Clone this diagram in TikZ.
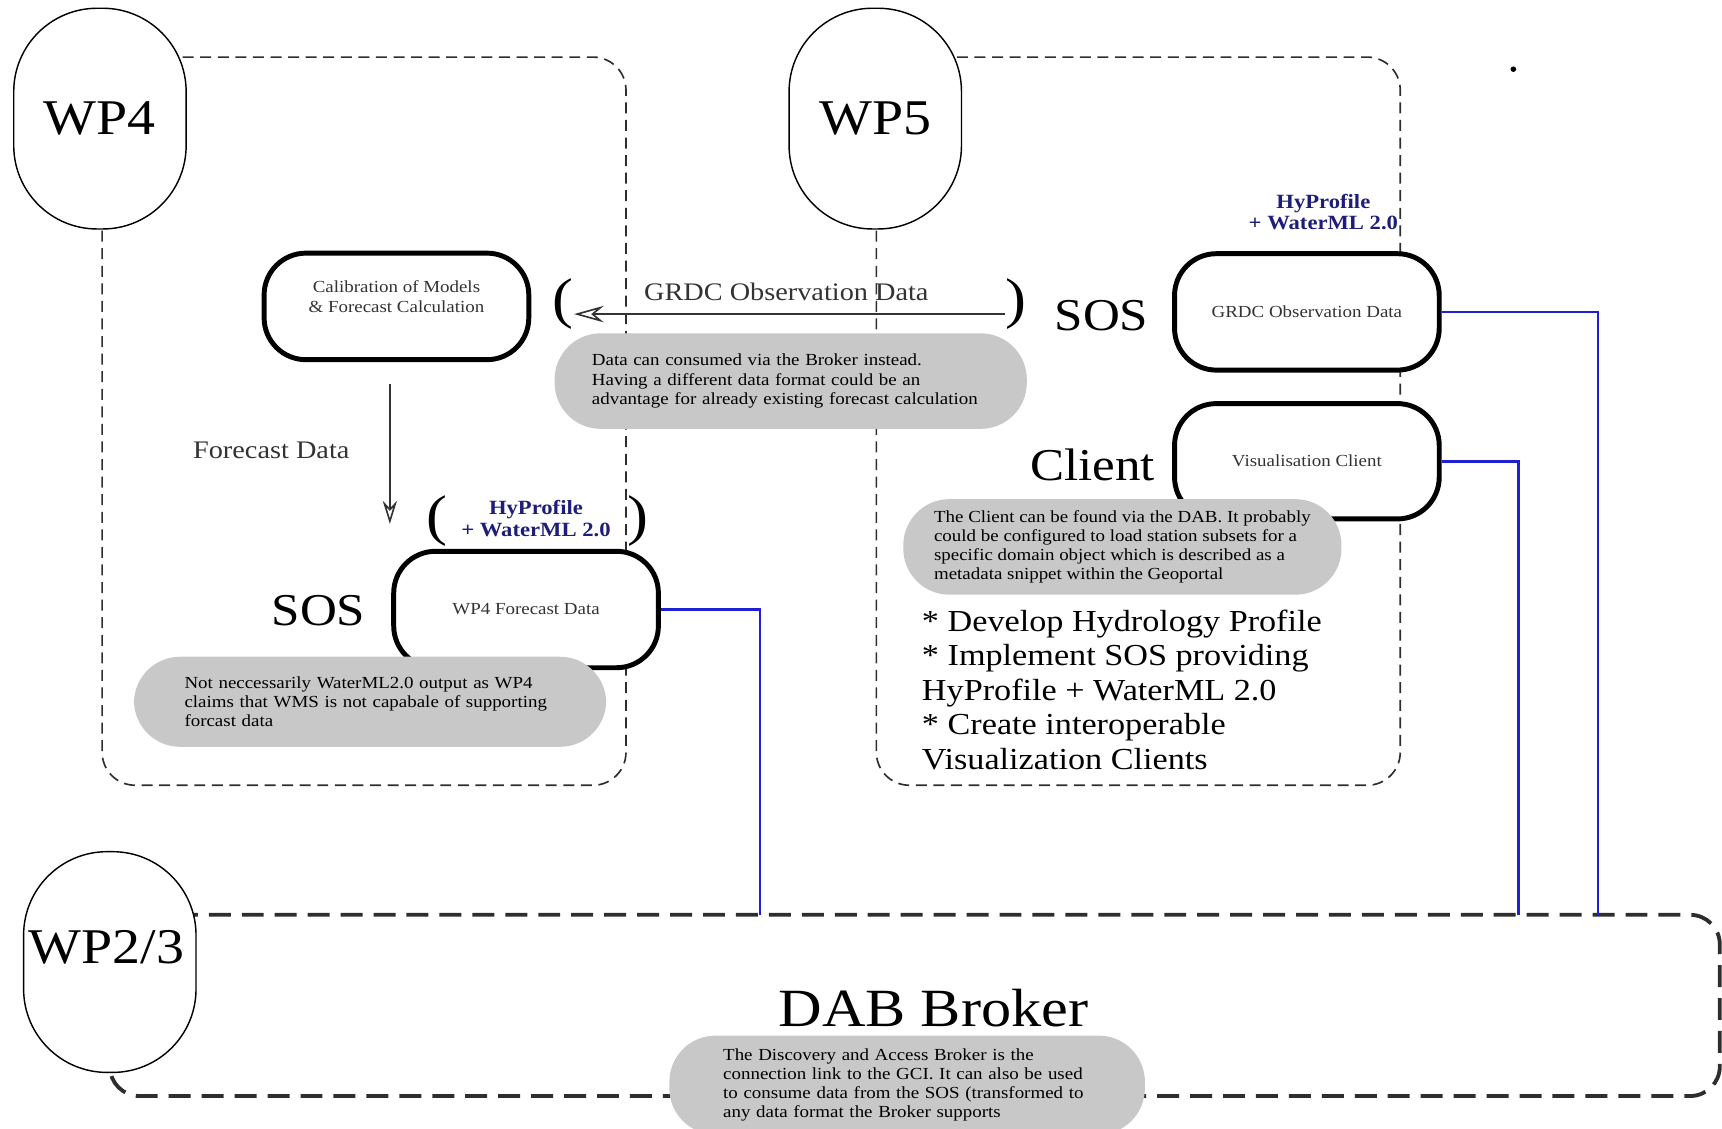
\documentclass[tikz,border=0pt]{standalone}
\usepackage{fontspec}
\setmainfont{Liberation Serif}[FakeStretch=1.12]
\usepackage{xcolor}
\usepackage{tikz}
\usetikzlibrary{arrows.meta}
\definecolor{ink}{HTML}{000000}
\definecolor{soft}{HTML}{333333}
\definecolor{framec}{HTML}{2E2E2E}
\definecolor{shade}{HTML}{C8C8C8}
\definecolor{navy}{HTML}{1E1E7A}
\definecolor{wireblue}{HTML}{1F1FD8}
\tikzset{
  wp/.style={draw=ink, line width=1.3pt, fill=white, rounded corners=76pt,
    minimum width=157pt, minimum height=201pt, inner sep=0pt,
    font=\fontsize{45.5}{50}\selectfont},
  wpframe/.style={draw=framec, line width=1.5pt, dash pattern=on 10pt off 6pt, rounded corners=30pt},
  busframe/.style={draw=framec, line width=3.5pt, dash pattern=on 20pt off 10pt, rounded corners=27pt},
  box/.style={draw=ink, line width=4.5pt, fill=white, rounded corners=38pt,
    minimum width=241pt, minimum height=106pt, align=center, text=soft,
    font=\fontsize{15.4}{18}\selectfont},
  memo/.style={fill=shade, rounded corners=42pt, inner sep=0pt, align=left,
    font=\fontsize{15.4}{17.5}\selectfont},
  big/.style={font=\fontsize{41.5}{46}\selectfont},
  lab/.style={text=soft, font=\fontsize{23}{26}\selectfont},
  fmt/.style={text=navy, align=center, font=\bfseries\fontsize{18.4}{19.5}\selectfont},
  paren/.style={inner sep=0pt, font=\fontsize{51}{56}\selectfont},
  flow/.style={draw=soft, line width=1.5pt},
  wire/.style={draw=wireblue, line width=2.5pt},
  dot/.style={circle, fill=ink, inner sep=1.8pt},
}

\begin{document}
\begin{tikzpicture}[x=1pt,y=-1pt]
  \useasboundingbox (0,0) rectangle (1568,1028);
  % work package frames
  \draw[wpframe] (93,52) rectangle (570,715);
  \draw[wpframe] (798,52) rectangle (1275,715);
  \draw[busframe] (100,833) rectangle (1566,998);
  \node[wp] (wp4) at (91,108) {WP4};
  \node[wp] (wp5) at (797,108) {WP5};
  \node[wp] (wp23) at (100,876) {};
  \node[font=\fontsize{45.5}{50}\selectfont] (wp23lab) at (97,863) {WP2/3};
  \node[dot] (speck) at (1378,63) {};

  \node[box, minimum height=97pt] (calib) at (361,279) {Calibration of Models\\\& Forecast Calculation\\~};
  \node[box] (wp4data) at (479,555) {WP4 Forecast Data};
  \node[box] (grdcdata) at (1190,284) {GRDC Observation Data};
  \node[box, minimum height=105pt] (visclient) at (1190,420) {Visualisation Client};

  \node[big] (sosfc) at (290,556) {SOS};
  \node[big] (sosobs) at (1003,287) {SOS};
  \node[big] (client) at (995,423) {Client};
  \node[font=\fontsize{49}{54}\selectfont] (broker) at (850,918) {DAB Broker};

  \node[lab] (fclab) at (247,410) {Forecast Data};
  \node[lab] (obslab) at (716,266) {GRDC Observation Data};
  \node[fmt] (fmtfc) at (488,472) {HyProfile\\+ WaterML 2.0};
  \node[fmt] (fmtobs) at (1205,193) {HyProfile\\+ WaterML 2.0};
  \node[paren] (fcopen) at (398,474) {(};
  \node[paren] (fcclose) at (581,474) {)};
  \node[paren] (obsopen) at (513,277) {(};
  \node[paren] (obsclose) at (925,277) {)};

  \coordinate (fcfrom) at (355,350);
  \coordinate (fcto) at (355,477);
  \draw[flow, -{Stealth[open, length=21pt, width=13pt, inset=7pt]}] (fcfrom) -- (fcto);
  \draw[flow, -{Stealth[open, length=27pt, width=15pt, inset=9pt]}]
    ([yshift=-9pt]obsclose.west) -- ([yshift=-9pt]obsopen.east);

  % links down to the broker
  \coordinate (tap1) at (692,833);
  \coordinate (tap2) at (1383,833);
  \coordinate (tap3) at (1455,833);
  \draw[wire] (wp4data.east) -| (tap1);
  \draw[wire] (visclient.east) -| (tap2);
  \draw[wire] (grdcdata.east) -| (tap3);

  \node[memo, text width=362pt, minimum width=430pt, minimum height=87pt] (obsnote) at (720,347)
    {Data can consumed via the Broker instead.\\Having a different data format could be an\\advantage for already existing forecast calculation};
  \node[memo, text width=338pt, minimum width=430pt, minimum height=82pt] (fcnote) at (337,639)
    {Not neccessarily WaterML2.0 output as WP4\\claims that WMS is not capabale of supporting\\forcast data};
  \node[memo, minimum width=399pt, minimum height=87pt] (clientnote) at (1022,498)
    {The Client can be found via the DAB. It probably\\could be configured to load station subsets for a\\specific domain object which is described as a\\metadata snippet within the Geoportal};
  \node[memo, text width=335pt, minimum width=433pt, minimum height=90pt] (brokernote) at (826,988)
    {The Discovery and Access Broker is the\\connection link to the GCI. It can also be used\\to consume data from the SOS (transformed to\\any data format the Broker supports};

  \node[anchor=west, align=left, font=\fontsize{27.8}{31.5}\selectfont] (tasks) at (836,628)
    {* Develop Hydrology Profile\\* Implement SOS providing\\HyProfile + WaterML 2.0\\* Create interoperable\\Visualization Clients};
\end{tikzpicture}
\end{document}
